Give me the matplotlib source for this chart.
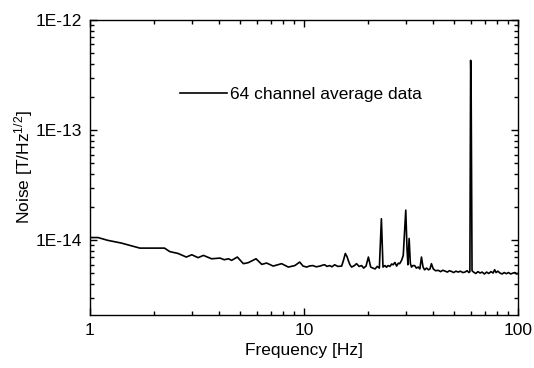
import matplotlib
matplotlib.use("Agg")
import matplotlib.pyplot as plt
from matplotlib.ticker import LogLocator, FixedLocator, NullFormatter

plt.rcParams['font.family'] = ['Liberation Sans', 'DejaVu Sans']
plt.rcParams['mathtext.fontset'] = 'custom'
plt.rcParams['mathtext.rm'] = 'Liberation Sans'
plt.rcParams['mathtext.it'] = 'Liberation Sans'

# frequency in Hz, noise in fT/Hz^1/2
freq = [1.00, 1.09, 1.21, 1.40, 1.71, 2.23, 2.36, 2.58, 2.82, 2.99,
        3.20, 3.39, 3.70, 4.05, 4.24, 4.44, 4.59, 4.88, 5.21, 5.49,
        5.97, 6.35, 6.69, 7.18, 7.86, 8.45, 9.06, 9.55, 9.90, 10.3,
        10.6, 11.0, 11.4, 11.9, 12.2, 12.5, 12.8, 13.2, 13.5, 13.9,
        14.4, 15.0, 15.3, 15.6, 15.9, 16.1, 16.4, 16.7, 17.2, 17.6,
        18.1, 18.6, 19.0, 19.5, 20.0, 20.5, 21.0, 21.5, 22.0, 22.5,
        23.0, 23.4, 23.9, 24.3, 24.7, 25.2, 25.7, 26.1, 26.6, 27.1,
        27.6, 28.0, 28.6, 29.1, 29.6, 29.9, 30.3, 30.6, 31.0, 31.4,
        31.8, 32.3, 32.9, 33.5, 34.2, 34.8, 35.4, 36.0, 36.6, 37.4,
        38.2, 38.8, 39.4, 40.2, 41.2, 42.4, 43.5, 44.5, 45.6, 46.8,
        47.8, 48.9, 50.0, 51.3, 52.6, 53.8, 55.2, 56.5, 57.8, 59.0,
        59.6, 60.1, 60.4, 61.0, 62.0, 63.5, 65.0, 66.5, 68.0, 69.7,
        71.4, 73.0, 74.8, 76.5, 77.8, 79.0, 80.5, 82.4, 84.3, 86.2,
        88.3, 90.3, 92.5, 94.9, 97.0, 98.5, 100.0]
noise_ft = [10.6, 10.6, 10.0, 9.45, 8.5, 8.5, 7.9, 7.6, 7.05, 7.4,
            6.96, 7.3, 6.8, 6.9, 6.67, 6.8, 6.58, 7.05, 6.14, 6.27,
            6.8, 6.05, 6.22, 5.84, 6.14, 5.72, 5.9, 6.35, 5.84, 5.72,
            5.85, 5.9, 5.75, 5.84, 5.95, 6.0, 5.8, 5.9, 5.75, 6.0,
            5.8, 5.84, 6.6, 7.6, 7.1, 6.58, 6.0, 5.72, 5.9, 6.14,
            5.8, 5.9, 5.6, 5.84, 7.05, 5.72, 5.6, 5.5, 5.8, 5.6,
            15.7, 5.72, 5.9, 5.7, 5.9, 5.8, 6.1, 6.0, 6.3, 5.84,
            6.2, 6.14, 6.6, 7.3, 13.2, 18.8, 8.4, 6.0, 10.4, 6.2,
            5.72, 5.9, 5.9, 5.6, 5.72, 5.5, 7.05, 5.72, 5.4, 5.6,
            5.4, 5.5, 6.14, 5.5, 5.3, 5.34, 5.2, 5.35, 5.26, 5.15,
            5.3, 5.22, 5.1, 5.25, 5.15, 5.25, 5.1, 5.15, 5.3, 5.1,
            5.2, 430.0, 250.0, 5.3, 5.15, 5.0, 5.2, 5.05, 5.15, 4.95,
            5.15, 5.0, 5.2, 5.05, 5.41, 5.1, 5.25, 5.05, 4.95, 5.1,
            4.98, 5.1, 4.95, 5.05, 5.1, 4.95, 5.0]
noise = [v * 1e-15 for v in noise_ft]

legend_label = "64 channel average data"
xticks = [1, 10, 100]
xtick_labels = ["1", "10", "100"]
yticks = [1e-14, 1e-13, 1e-12]
ytick_labels = ["1E-14", "1E-13", "1E-12"]

fig = plt.figure(figsize=(5.34, 3.68), dpi=100)
ax = fig.add_axes([0.1685, 0.144, 0.8015, 0.8017])

ax.plot(freq, noise, color="black", linewidth=1.2, label=legend_label)

ax.set_xscale("log")
ax.set_yscale("log")
ax.set_xlim(1, 100)
ax.set_ylim(2.1e-15, 1e-12)

ax.xaxis.set_major_locator(FixedLocator(xticks))
ax.set_xticklabels(xtick_labels)
ax.yaxis.set_major_locator(FixedLocator(yticks))
ax.set_yticklabels(ytick_labels)
ax.xaxis.set_minor_locator(LogLocator(base=10, subs=range(2, 10)))
ax.yaxis.set_minor_locator(LogLocator(base=10, subs=range(2, 10)))
ax.xaxis.set_minor_formatter(NullFormatter())
ax.yaxis.set_minor_formatter(NullFormatter())

ax.tick_params(which="both", direction="in", top=True, right=True,
               labelsize=12.5, width=1.0)
ax.tick_params(which="major", length=5, pad=6)
ax.tick_params(which="minor", length=3)
for s in ax.spines.values():
    s.set_linewidth(1.0)

ax.set_xlabel("Frequency [Hz]", fontsize=12.5, labelpad=3)
ax.set_ylabel(r"Noise [T/Hz$^{1/2}$]", fontsize=12.5, labelpad=0)

ax.legend(loc="center left", bbox_to_anchor=(0.21, 0.746), frameon=False,
          fontsize=12.5, handlelength=2.7, handletextpad=0.2,
          borderaxespad=0, borderpad=0)

fig.savefig("out.png", dpi=100)
